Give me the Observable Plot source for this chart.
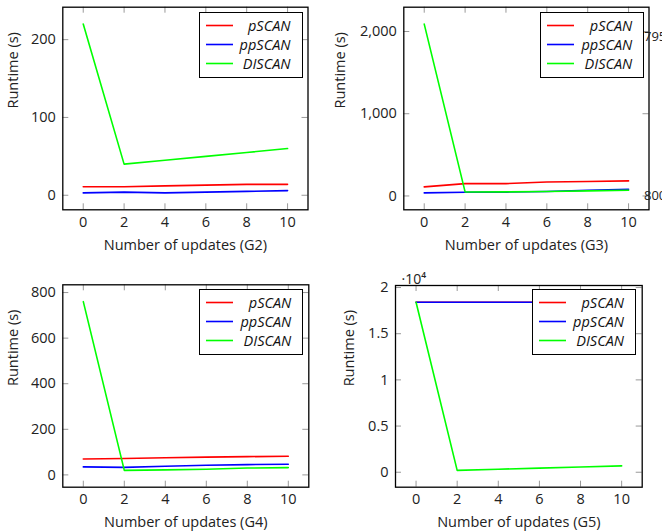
<!DOCTYPE html>
<html>
<head>
<meta charset="utf-8">
<script src="https://cdn.jsdelivr.net/npm/d3@7"></script>
<script src="https://cdn.jsdelivr.net/npm/@observablehq/plot@0.6"></script>
<style>
  html, body { margin: 0; padding: 0; background: white; }
  #wrap { position: relative; width: 662px; height: 531px; overflow: hidden; font-family: 'Open Sans', sans-serif; }
  .panel { position: absolute; }
  .legend { position: absolute; width: 102px; height: 64px; border: 1.3px solid #000; background: #fff; box-sizing: content-box; }
  .legend .row { position: absolute; left: 0; width: 100%; height: 19px; }
  .legend svg { position: absolute; left: 6px; top: 0; }
  .legend span { position: absolute; right: 11px; top: 0; line-height: 19px; font-size: 14.5px; font-style: italic; color: #111; }
</style>
</head>
<body>
<div id="wrap"></div>
<script>
// ---------- data ----------
const updates = [0, 2, 4, 6, 8, 10];
const xTicks = [0, 2, 4, 6, 8, 10];
const seriesNames = ["pSCAN", "ppSCAN", "DISCAN"];
const seriesColors = ["#ff0000", "#0000ff", "#00ff00"];

const g2_pSCAN  = [11, 11, 12, 13, 14, 14];
const g2_ppSCAN = [3, 4, 3, 4, 5, 6];
const g2_DISCAN = [220, 40, 45, 50, 55, 60];
const g2_yTicks = [0, 100, 200];
const g2_yTickLabels = ["0", "100", "200"];

const g3_pSCAN  = [110, 150, 150, 170, 175, 183];
const g3_ppSCAN = [37, 45, 47, 55, 70, 82];
const g3_DISCAN = [2090, 49, 50, 55, 62, 70];
const g3_yTicks = [0, 1000, 2000];
const g3_yTickLabels = ["0", "1,000", "2,000"];
const g3_rightValues = [1940, 0];
const g3_rightLabels = ["795", "800"];

const g4_pSCAN  = [70, 72, 75, 78, 80, 82];
const g4_ppSCAN = [35, 33, 38, 42, 45, 47];
const g4_DISCAN = [760, 20, 22, 25, 30, 32];
const g4_yTicks = [0, 200, 400, 600, 800];
const g4_yTickLabels = ["0", "200", "400", "600", "800"];

const g5_pSCAN  = [18400, 18400, 18400, 18400, 18400, 18400];
const g5_ppSCAN = [18400, 18400, 18400, 18400, 18400, 18400];
const g5_DISCAN = [18400, 200, 330, 450, 570, 690];
const g5_yTicks = [0, 5000, 10000, 15000, 20000];
const g5_yTickLabels = ["0", "0.5", "1", "1.5", "2"];
const g5_scaleLabel = "·10⁴";

const xLabels = ["Number of updates (G2)", "Number of updates (G3)", "Number of updates (G4)", "Number of updates (G5)"];
const yLabel = "Runtime (s)";

// ---------- drawing ----------
function enlarge(vals) {
  const [lo, hi] = d3.extent(vals);
  const r = hi - lo;
  return [lo - 0.1 * r, hi + 0.1 * r];
}

function makePanel(cfg) {
  const rows = [];
  cfg.series.forEach((vals, si) => {
    vals.forEach((v, i) => rows.push({x: updates[i], y: v, series: seriesNames[si]}));
  });
  const h = cfg.height - cfg.mt - cfg.mb;
  const w = cfg.width - cfg.ml - cfg.mr;
  const tickLen = 6;
  const marks = [
    Plot.ruleX(xTicks, {x: d => d, stroke: "#999", strokeWidth: 1, insetTop: h - tickLen}),
    Plot.ruleX(xTicks, {x: d => d, stroke: "#999", strokeWidth: 1, insetBottom: h - tickLen}),
    Plot.ruleY(cfg.yTicks, {y: d => d, stroke: "#999", strokeWidth: 1, insetRight: w - tickLen}),
    Plot.ruleY(cfg.yTicks, {y: d => d, stroke: "#999", strokeWidth: 1, insetLeft: w - tickLen}),
    Plot.line(rows, {x: "x", y: "y", z: "series", stroke: "series", strokeWidth: 1.6}),
    Plot.frame({stroke: "#000", strokeWidth: 1.3}),
    Plot.axisX(xTicks, {anchor: "bottom", tickSize: 0, tickPadding: 7, label: null, fill: "#222", fontSize: 14.5}),
    Plot.axisY(cfg.yTicks, {anchor: "left", tickSize: 0, tickPadding: 7, label: null, fill: "#222", fontSize: 14.5,
      tickFormat: d => cfg.yTickLabels[cfg.yTicks.indexOf(d)]}),
    Plot.text([cfg.xLabel], {text: d => d, frameAnchor: "bottom", lineAnchor: "middle", dy: cfg.xLabelOffset, fill: "#222", fontSize: 14.5}),
    Plot.text([yLabel], {text: d => d, frameAnchor: "left", lineAnchor: "middle", rotate: -90, dx: -cfg.yLabelOffset, fill: "#222", fontSize: 14.5})
  ];
  if (cfg.extra) marks.push(...cfg.extra);
  const chart = Plot.plot({
    width: cfg.width,
    height: cfg.height,
    marginLeft: cfg.ml, marginRight: cfg.mr, marginTop: cfg.mt, marginBottom: cfg.mb,
    x: {domain: enlarge(updates)},
    y: {domain: enlarge(cfg.series.flat())},
    color: {domain: seriesNames, range: seriesColors},
    style: {fontFamily: "'Open Sans', sans-serif", fontSize: "14px", background: "transparent", overflow: "visible", color: "#222"},
    marks
  });
  const holder = document.createElement("div");
  holder.className = "panel";
  holder.style.left = cfg.left + "px";
  holder.style.top = cfg.top + "px";
  holder.appendChild(chart);
  document.getElementById("wrap").appendChild(holder);

  // legend
  const lg = document.createElement("div");
  lg.className = "legend";
  lg.style.left = cfg.legendLeft + "px";
  lg.style.top = cfg.legendTop + "px";
  seriesNames.forEach((name, i) => {
    const row = document.createElement("div");
    row.className = "row";
    row.style.top = (3 + i * 19) + "px";
    row.innerHTML = `<svg width="28" height="19"><line x1="0" x2="27" y1="9.5" y2="9.5" stroke="${seriesColors[i]}" stroke-width="1.6"/></svg><span>${name}</span>`;
    lg.appendChild(row);
  });
  document.getElementById("wrap").appendChild(lg);
}

makePanel({
  left: 0, top: 0, width: 331, height: 265, ml: 62.3, mr: 23.5, mt: 6.7, mb: 55.7,
  series: [g2_pSCAN, g2_ppSCAN, g2_DISCAN], yTicks: g2_yTicks, yTickLabels: g2_yTickLabels,
  xLabel: xLabels[0], xLabelOffset: 36, yLabelOffset: 49.6, legendLeft: 198.5, legendTop: 12.3
});
makePanel({
  left: 331, top: 0, width: 331, height: 265, ml: 72.3, mr: 13.5, mt: 6.7, mb: 55.7,
  series: [g3_pSCAN, g3_ppSCAN, g3_DISCAN], yTicks: g3_yTicks, yTickLabels: g3_yTickLabels,
  xLabel: xLabels[1], xLabelOffset: 36, yLabelOffset: 63, legendLeft: 540.3, legendTop: 12.3,
  extra: [Plot.text(g3_rightValues, {y: d => d, text: (d, i) => g3_rightLabels[i], frameAnchor: "right", textAnchor: "start", dx: -5, fill: "#222", fontSize: 13})]
});
makePanel({
  left: 0, top: 265, width: 331, height: 266, ml: 62.3, mr: 22.7, mt: 19.3, mb: 44.3,
  series: [g4_pSCAN, g4_ppSCAN, g4_DISCAN], yTicks: g4_yTicks, yTickLabels: g4_yTickLabels,
  xLabel: xLabels[2], xLabelOffset: 35, yLabelOffset: 49.6, legendLeft: 199.3, legendTop: 289
});
makePanel({
  left: 331, top: 265, width: 331, height: 266, ml: 64, mr: 20.3, mt: 20, mb: 44.3,
  series: [g5_pSCAN, g5_ppSCAN, g5_DISCAN], yTicks: g5_yTicks, yTickLabels: g5_yTickLabels,
  xLabel: xLabels[3], xLabelOffset: 35, yLabelOffset: 45.7, legendLeft: 532, legendTop: 289,
  extra: [Plot.text([g5_scaleLabel], {text: d => d, frameAnchor: "top-left", textAnchor: "start", dx: 6, dy: -11, fill: "#222", fontSize: 14})]
});
</script>
</body>
</html>
